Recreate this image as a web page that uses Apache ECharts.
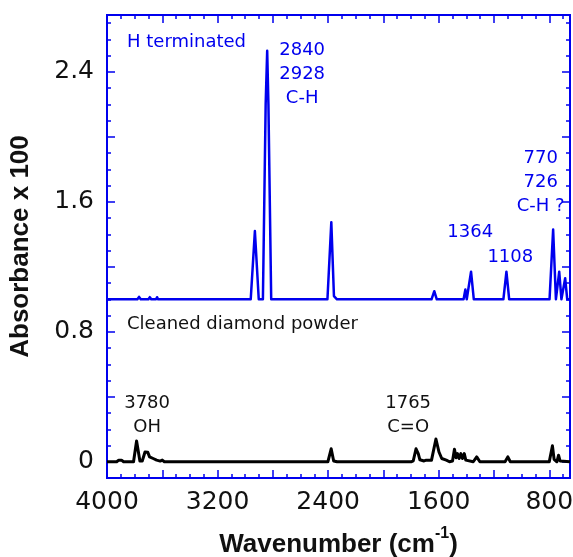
<!DOCTYPE html>
<html>
<head>
<meta charset="utf-8">
<title>FTIR spectra of diamond powder</title>
<script src="https://cdn.jsdelivr.net/npm/echarts@6/dist/echarts.min.js"></script>
<style>
  html, body { margin: 0; padding: 0; background: #fff; }
  #chart { width: 573px; height: 557px; }
</style>
</head>
<body>
<div id="chart"></div>
<script>
// Hydrogen-terminated powder (offset by +1.0 absorbance x 100)
const hTermWn  = [4000, 3780, 3768, 3756, 3700, 3690, 3680, 3645, 3638, 3630, 2960, 2930, 2902, 2872, 2852, 2841, 2832, 2812,
                  2405, 2377, 2358, 2346, 2336, 1652, 1632, 1614, 1420, 1407, 1397, 1388, 1366, 1346, 1132, 1110, 1090,
                  798, 772, 752, 744, 728, 712, 700, 685, 670, 650];
const hTermAbs = [1.0, 1.0, 1.015, 1.0, 1.0, 1.013, 1.0, 1.0, 1.013, 1.0, 1.0, 1.42, 1.0, 1.0, 2.2, 2.53, 2.2, 1.0,
                  1.0, 1.475, 1.02, 1.03, 1.0, 1.0, 1.05, 1.0, 1.0, 1.06, 1.0, 1.0, 1.17, 1.0, 1.0, 1.17, 1.0,
                  1.0, 1.43, 1.0, 1.0, 1.17, 1.0, 1.0, 1.13, 1.0, 1.0];

// Cleaned diamond powder
const cleanedWn  = [4000, 3930, 3915, 3895, 3880, 3808, 3786, 3762, 3745, 3725, 3705, 3692, 3680, 3666, 3655, 3641, 3630, 3615, 3600, 3585,
                    2922, 2916, 2910, 2402, 2378, 2360, 2346, 2335,
                    1800, 1784, 1764, 1748, 1736, 1722, 1706, 1690, 1652, 1620, 1598, 1578, 1565, 1545, 1522, 1500,
                    1486, 1474, 1464, 1452, 1440, 1428, 1415, 1404, 1392, 1350, 1325, 1302,
                    1120, 1100, 1082, 800, 777, 765, 755, 745, 733, 722, 710, 650];
const cleanedAbs = [0, 0, 0.01, 0.01, 0, 0, 0.128, 0.005, 0.005, 0.06, 0.058, 0.03, 0.035, 0.02, 0.025, 0.01, 0.015, 0.004, 0.01, 0,
                    0, 0.006, 0, 0, 0.08, 0.005, 0.015, 0,
                    0, 0.006, 0.08, 0.05, 0.012, 0.02, 0.005, 0.01, 0.01, 0.14, 0.06, 0.02, 0.008, 0.01, 0, 0.005,
                    0.077, 0.025, 0.05, 0.02, 0.05, 0.02, 0.05, 0.01, 0.0, 0, 0.03, 0,
                    0, 0.03, 0, 0, 0.098, 0.015, 0.015, 0.0, 0.04, 0.005, 0, 0];

// Axis ticks and labels
const xTickLabels = [4000, 3200, 2400, 1600, 800];
const xMajorTicks = [4000, 3600, 3200, 2800, 2400, 2000, 1600, 1200, 800];
const xMinorTicks = [4000, 3900, 3800, 3700, 3600, 3500, 3400, 3300, 3200, 3100, 3000, 2900, 2800, 2700, 2600, 2500,
                     2400, 2300, 2200, 2100, 2000, 1900, 1800, 1700, 1600, 1500, 1400, 1300, 1200, 1100, 1000, 900, 800, 700];
const yTickLabels = [0, 0.8, 1.6, 2.4];
const yMajorTicks = [0, 0.4, 0.8, 1.2, 1.6, 2.0, 2.4];
const yMinorTicks = [-0.1, 0, 0.1, 0.2, 0.3, 0.4, 0.5, 0.6, 0.7, 0.8, 0.9, 1.0, 1.1, 1.2, 1.3, 1.4, 1.5,
                     1.6, 1.7, 1.8, 1.9, 2.0, 2.1, 2.2, 2.3, 2.4, 2.5, 2.6, 2.7];

// Peak assignments: text, anchor wavenumber, anchor absorbance, alignment
const notes = [
  { text: 'H terminated',            wn: 3855, a: 2.583, align: 'left',   color: 'blue' },
  { text: '2840\n2928\nC-H',         wn: 2588, a: 2.383, align: 'center', color: 'blue' },
  { text: '1364',                    wn: 1372, a: 1.415, align: 'center', color: 'blue' },
  { text: '1108',                    wn: 1082, a: 1.257, align: 'center', color: 'blue' },
  { text: '770\n726\nC-H ?',         wn: 862,  a: 1.719, align: 'center', color: 'blue' },
  { text: 'Cleaned diamond powder',  wn: 3855, a: 0.847, align: 'left',   color: 'black' },
  { text: '3780\nOH',                wn: 3710, a: 0.286, align: 'center', color: 'black' },
  { text: '1765\nC=O',               wn: 1821, a: 0.284, align: 'center', color: 'black' }
];

const BLUE = '#0000ee';
const INK = '#111111';
const X_MIN = 650, X_MAX = 4000, Y_MIN = -0.1, Y_MAX = 2.75;

const zip = (xs, ys) => xs.map((x, i) => [x, ys[i]]);

function xAxisDef(position, ticks, len, labels, extra) {
  return Object.assign({
    type: 'value', position: position, min: X_MIN, max: X_MAX, inverse: true,
    axisLine: { show: true, onZero: false, lineStyle: { color: BLUE, width: 2 } },
    axisTick: { show: true, inside: true, length: len, customValues: ticks, lineStyle: { color: BLUE, width: 1.5 } },
    axisLabel: labels ? {
      show: true, customValues: labels, color: INK, fontFamily: 'DejaVu Sans', fontSize: 25, margin: 12,
      formatter: v => String(v)
    } : { show: false },
    splitLine: { show: false }
  }, extra || {});
}

function yAxisDef(position, ticks, len, labels, extra) {
  return Object.assign({
    type: 'value', position: position, min: Y_MIN, max: Y_MAX,
    axisLine: { show: true, onZero: false, lineStyle: { color: BLUE, width: 2 } },
    axisTick: { show: true, inside: true, length: len, customValues: ticks, lineStyle: { color: BLUE, width: 1.5 } },
    axisLabel: labels ? {
      show: true, customValues: labels, color: INK, fontFamily: 'DejaVu Sans', fontSize: 25, margin: 13,
      formatter: v => (v === 0 ? '0' : v.toFixed(1))
    } : { show: false },
    splitLine: { show: false }
  }, extra || {});
}

const chart = echarts.init(document.getElementById('chart'), null, { renderer: 'canvas' });

chart.setOption({
  animation: false,
  backgroundColor: '#ffffff',
  grid: { left: 107, right: 3, top: 15, bottom: 79, containLabel: false, outerBoundsMode: 'none' },
  xAxis: [
    xAxisDef('bottom', xMinorTicks, 4, xTickLabels, {
      name: '{t|Wavenumber (cm}{s|-1}{t|)}',
      nameLocation: 'middle', nameGap: 48,
      nameTextStyle: {
        rich: {
          t: { fontFamily: 'Liberation Sans', fontWeight: 'bold', fontSize: 26, color: INK, verticalAlign: 'bottom', lineHeight: 32 },
          s: { fontFamily: 'Liberation Sans', fontWeight: 'bold', fontSize: 16, color: INK, verticalAlign: 'top', lineHeight: 32, padding: [0, 0, 13, 0] }
        }
      }
    }),
    xAxisDef('bottom', xMajorTicks, 8, null),
    xAxisDef('top', xMinorTicks, 4, null),
    xAxisDef('top', xMajorTicks, 8, null)
  ],
  yAxis: [
    yAxisDef('left', yMinorTicks, 4, yTickLabels, {
      name: 'Absorbance x 100', nameLocation: 'middle', nameGap: 73, nameRotate: 90,
      nameTextStyle: { fontFamily: 'Liberation Sans', fontWeight: 'bold', fontSize: 26, color: INK }
    }),
    yAxisDef('left', yMajorTicks, 8, null),
    yAxisDef('right', yMinorTicks, 4, null),
    yAxisDef('right', yMajorTicks, 8, null)
  ],
  series: [
    {
      name: 'H terminated', type: 'line', xAxisIndex: 0, yAxisIndex: 0,
      data: zip(hTermWn, hTermAbs), showSymbol: false, symbol: 'none',
      lineStyle: { color: BLUE, width: 2.5, join: 'round' }, z: 3
    },
    {
      name: 'Cleaned diamond powder', type: 'line', xAxisIndex: 0, yAxisIndex: 0,
      data: zip(cleanedWn, cleanedAbs), showSymbol: false, symbol: 'none',
      lineStyle: { color: '#000000', width: 3, join: 'round' }, z: 3
    }
  ]
});

// Place peak assignments through the data scales
const graphic = notes.map(n => {
  const p = chart.convertToPixel({ xAxisIndex: 0, yAxisIndex: 0 }, [n.wn, n.a]);
  return {
    type: 'text', x: p[0], y: p[1], z: 10,
    style: {
      text: n.text, fill: n.color === 'blue' ? BLUE : INK,
      font: '18px "DejaVu Sans"', lineHeight: 24,
      align: n.align, verticalAlign: 'middle'
    }
  };
});
chart.setOption({ graphic: graphic });
</script>
</body>
</html>
